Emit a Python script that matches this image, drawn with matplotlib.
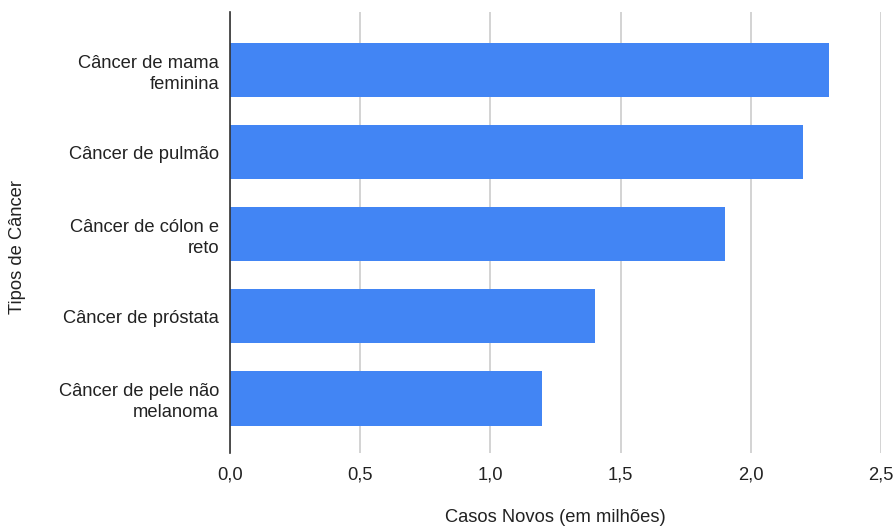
import matplotlib
matplotlib.use("Agg")
import matplotlib.pyplot as plt

plt.rcParams["font.family"] = ["Liberation Sans", "DejaVu Sans"]

categories = ["Câncer de mama\nfeminina", "Câncer de pulmão", "Câncer de cólon e\nreto",
              "Câncer de próstata", "Câncer de pele não\nmelanoma"]
values = [2.3, 2.2, 1.9, 1.4, 1.2]
xticks = [0.0, 0.5, 1.0, 1.5, 2.0, 2.5]
xtick_labels = ["0,0", "0,5", "1,0", "1,5", "2,0", "2,5"]

fig = plt.figure(figsize=(8.96, 5.26), dpi=100)
ax = fig.add_axes([230 / 896, 73 / 526, 651 / 896, 441 / 526])

ypos = list(range(len(categories)))
ax.barh(ypos, values, height=0.66, color="#4285f4", zorder=3)
ax.set_ylim(4.664, -0.706)
ax.set_xlim(0, 2.5)
ax.set_yticks(ypos)
ax.set_yticklabels(categories, fontsize=13.2, color="#222222", linespacing=1.3)
ax.set_xticks(xticks)
ax.set_xticklabels(xtick_labels, fontsize=13.2, color="#222222")
ax.tick_params(axis="y", length=0, pad=8)
ax.tick_params(axis="x", length=0, pad=10)

ax.grid(axis="x", color="#cccccc", linewidth=1.2, zorder=0)
for s in ["top", "right", "bottom"]:
    ax.spines[s].set_visible(False)
ax.spines["left"].set_color("#333333")
ax.spines["left"].set_linewidth(1.2)
ax.spines["left"].set_zorder(4)

fig.text(555 / 896, 1 - 518 / 526, "Casos Novos (em milhões)", fontsize=13.2,
         color="#222222", ha="center", va="center")
fig.text(18 / 896, 1 - 247 / 526, "Tipos de Câncer", fontsize=13.2, color="#222222",
         ha="center", va="center", rotation=90)

fig.savefig("out.png", dpi=100)
